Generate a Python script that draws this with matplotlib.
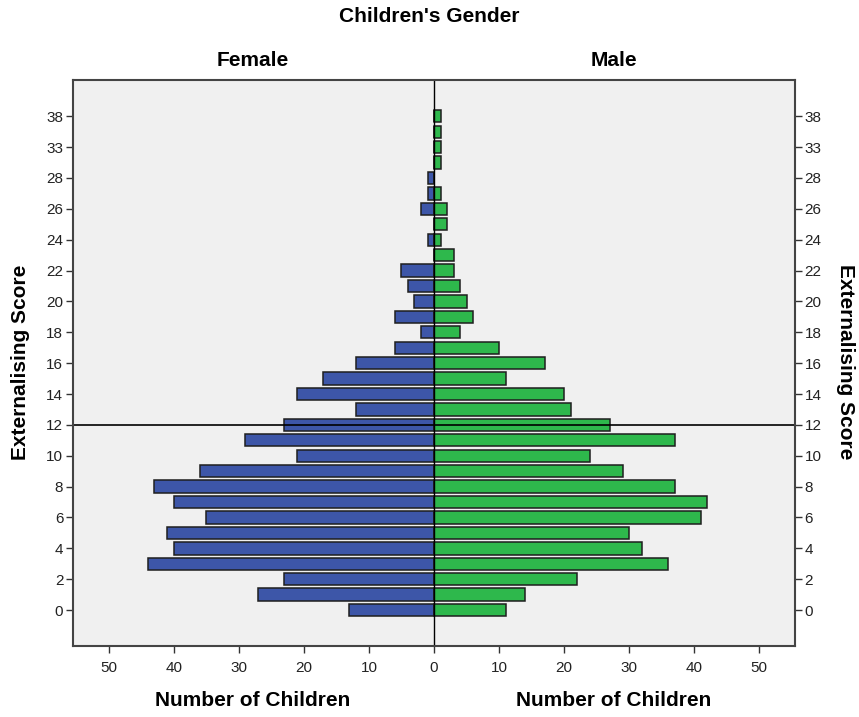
import matplotlib
matplotlib.use("Agg")
import matplotlib.pyplot as plt
import numpy as np

plt.rcParams['font.family'] = ['Liberation Sans Narrow', 'Liberation Sans', 'DejaVu Sans']

# Externalising score categories (only observed scores get a row)
scores = list(range(0, 29)) + [31, 33, 35, 38]
female = [13, 27, 23, 44, 40, 41, 35, 40, 43, 36, 21, 29, 23, 12, 21, 17, 12, 6, 2, 6,
          3, 4, 5, 0, 1, 0, 2, 1, 1, 0, 0, 0, 0]
male = [11, 14, 22, 36, 32, 30, 41, 42, 37, 29, 24, 37, 27, 21, 20, 11, 17, 10, 4, 6,
        5, 4, 3, 3, 1, 2, 2, 1, 0, 1, 1, 1, 1]
ref_score = 12
count_ticks = [-50, -40, -30, -20, -10, 0, 10, 20, 30, 40, 50]

BLUE = '#3D56A8'
GREEN = '#2EB84C'
EDGE = '#1E1E1E'

fig = plt.figure(figsize=(8.59, 7.17), dpi=100)
ax = fig.add_axes([0.085, 0.099, 0.8405, 0.789])
ax.set_facecolor('#F0F0F0')

rows = np.arange(len(scores))
ax.barh(rows, -np.array(female), height=0.8, color=BLUE, edgecolor=EDGE, linewidth=1.1)
ax.barh(rows, male, height=0.8, color=GREEN, edgecolor=EDGE, linewidth=1.1)

ax.axvline(0, color='black', linewidth=1)
ax.axhline(scores.index(ref_score), color='black', linewidth=1.2)

ax.set_xlim(-55.5, 55.5)
ax.set_ylim(-2.33, len(scores) + 1.33)

ax.set_xticks(count_ticks)
ax.set_xticklabels([str(abs(t)) for t in count_ticks])
ax.set_yticks(rows[::2])
ax.set_yticklabels([str(s) for s in scores[::2]])
ax.tick_params(axis='both', direction='out', length=5, width=1, color='#333333',
               labelsize=11, labelcolor='#222222')
ax.tick_params(axis='y', right=True, labelright=True, pad=2)
ax.tick_params(axis='x', pad=6)

for sp in ax.spines.values():
    sp.set_color('#444444')
    sp.set_linewidth(1.5)

big = dict(ha='center', va='center', fontsize=15, fontweight='bold')
fig.text(0.5, 1 - 16 / 717, "Children's Gender", **big)
fig.text(253 / 859, 1 - 60 / 717, 'Female', **big)
fig.text(614 / 859, 1 - 60 / 717, 'Male', **big)
fig.text(253 / 859, 1 - 701 / 717, 'Number of Children', **big)
fig.text(614 / 859, 1 - 701 / 717, 'Number of Children', **big)
fig.text(21 / 859, 1 - 362 / 717, 'Externalising Score', rotation=90, **big)
fig.text(845 / 859, 1 - 362 / 717, 'Externalising Score', rotation=270, **big)

fig.savefig('out.png', dpi=100)
